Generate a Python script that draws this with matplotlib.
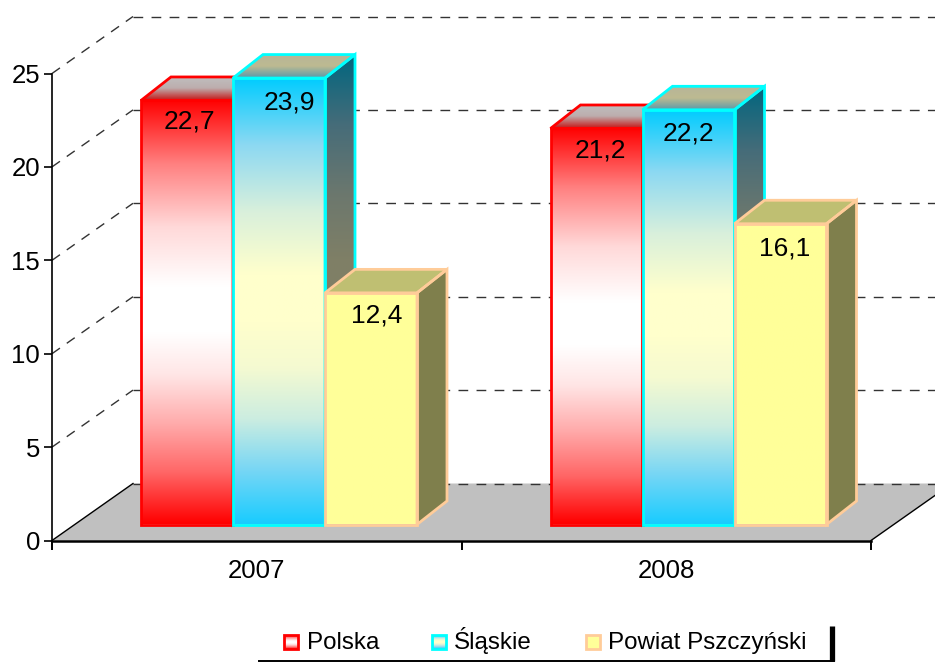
#coding=utf-8

import numpy as np
import matplotlib
matplotlib.use('Agg')
import matplotlib.pyplot as plt
from matplotlib.colors import LinearSegmentedColormap
from matplotlib.patches import Polygon

plt.rcParams['font.family'] = ['Liberation Sans', 'DejaVu Sans']

# dane
years = ['2007', '2008']
series_names = ['Polska', 'Śląskie', 'Powiat Pszczyński']
polska = [22.7, 21.2]
slaskie = [23.9, 22.2]
powiat = [12.4, 16.1]
value_labels = [['22,7', '21,2'], ['23,9', '22,2'], ['12,4', '16,1']]
y_ticks = [0, 5, 10, 15, 20, 25]

W, H = 935, 662
AX_L, AX_R, AX_B, AX_T = 52, 871, 540.5, 73.5
PX_X = (AX_R - AX_L) / 2.0
PX_Y = (AX_B - AX_T) / 25.0

# glebia wykresu 3D (piksele -> jednostki danych)
DEPTH_X = 81 / PX_X
DEPTH_Y = 57 / PX_Y
BAR_DX = 30 / PX_X
BAR_DY = 23.5 / PX_Y
BASE_X = 22.5 / PX_X
BASE_Y = 16 / PX_Y
BAR_W = 92 / PX_X
FIRST = 66.5 / PX_X

RED_STOPS = [(0, (1, 0, 0)), (0.12, (1, 0.4, 0.4)), (0.235, (1, 0.67, 0.67)), (0.35, (1, 0.9, 0.9)),
             (0.45, (1, 1, 1)), (0.56, (1, 1, 1)), (0.7, (1, 0.85, 0.85)), (0.85, (1, 0.5, 0.5)), (1, (1, 0, 0))]
CYAN_STOPS = [(0, (0.1, 0.8, 1)), (0.12, (0.47, 0.84, 0.96)), (0.235, (0.8, 0.93, 0.88)), (0.35, (0.96, 0.98, 0.82)),
              (0.45, (1, 1, 0.8)), (0.56, (1, 1, 0.8)), (0.7, (0.85, 0.94, 0.86)), (0.85, (0.55, 0.85, 0.95)),
              (1, (0, 0.8, 1))]
SIDE_STOPS = [(p, tuple(0.5 * ch for ch in c)) for p, c in CYAN_STOPS]

styles = [
    {'edge': '#FF0000', 'front': RED_STOPS,
     'side': [(0.5, 0, 0), (0.5, 0.5, 0.5), (0.5, 0, 0)],
     'top': [(0.78, 0.1, 0.1), (0.74, 0.68, 0.68), (0.75, 0.75, 0.75)]},
    {'edge': '#00FFFF', 'front': CYAN_STOPS,
     'side': SIDE_STOPS,
     'top': [(0.35, 0.6, 0.67), (0.74, 0.73, 0.57), (0.72, 0.71, 0.6)]},
    {'edge': '#FFCC99', 'front': [(1, 1, 0.6), (1, 1, 0.6)],
     'side': [(0.5, 0.5, 0.3), (0.5, 0.5, 0.3)],
     'top': [(0.75, 0.75, 0.45), (0.75, 0.75, 0.45)]},
]
# przesuniecia etykiet w pikselach (x, y od gory slupka)
label_nudge = [[(2, 21), (4, 22)], [(10, 24), (0, 24)], [(6, 23), (4, 25)]]

fig = plt.figure(figsize=(W / 100, H / 100), dpi=100)
ax = fig.add_axes([AX_L / W, (H - AX_B) / H, (AX_R - AX_L) / W, (AX_B - AX_T) / H])
ax.patch.set_visible(False)


def gradient(target, pts, colors, zorder):
    # wypelnienie gradientem pionowym przyciete do wielokata
    pts = np.array(pts)
    cmap = LinearSegmentedColormap.from_list('g', colors)
    ext = (pts[:, 0].min(), pts[:, 0].max(), pts[:, 1].min(), pts[:, 1].max())
    im = target.imshow(np.linspace(1, 0, 256)[:, None], cmap=cmap, vmin=0, vmax=1, aspect='auto',
                       extent=ext, origin='upper', interpolation='bilinear', zorder=zorder)
    im.set_clip_box(fig.bbox)
    im.set_clip_path(Polygon(pts, closed=True, transform=target.transData))


# podloga
floor = Polygon([(0, 0), (2, 0), (2 + DEPTH_X, DEPTH_Y), (DEPTH_X, DEPTH_Y)], closed=True,
                facecolor='#C0C0C0', edgecolor='none', zorder=1, clip_on=False)
ax.add_patch(floor)
ax.plot([0, DEPTH_X], [0, DEPTH_Y], color='black', lw=1, zorder=2, clip_on=False)
ax.plot([2, 2 + DEPTH_X], [0, DEPTH_Y], color='black', lw=1, zorder=2, clip_on=False)

# siatka
for v in y_ticks:
    if v > 0:
        ax.plot([0, DEPTH_X], [v, v + DEPTH_Y], color='#333333', lw=1, ls=(0, (7, 6)), zorder=2, clip_on=False)
    ax.plot([DEPTH_X, 2 + DEPTH_X], [v + DEPTH_Y, v + DEPTH_Y], color='#333333', lw=1, ls=(0, (7, 6)),
            zorder=2, clip_on=False)

# slupki
z = 3
all_values = [polska, slaskie, powiat]
for g in range(len(years)):
    for s, values in enumerate(all_values):
        st = styles[s]
        v = values[g]
        x0 = g + FIRST + BASE_X + s * BAR_W
        x1 = x0 + BAR_W
        yb = BASE_Y
        yt = yb + v
        front = [(x0, yb), (x1, yb), (x1, yt), (x0, yt)]
        side = [(x1, yb), (x1 + BAR_DX, yb + BAR_DY), (x1 + BAR_DX, yt + BAR_DY), (x1, yt)]
        top = [(x0, yt), (x1, yt), (x1 + BAR_DX, yt + BAR_DY), (x0 + BAR_DX, yt + BAR_DY)]
        gradient(ax, side, st['side'], z)
        gradient(ax, top, st['top'], z + 0.1)
        gradient(ax, front, st['front'], z + 0.2)
        for pts in (side, top, front):
            ax.add_patch(Polygon(pts, closed=True, fill=False, edgecolor=st['edge'], lw=2,
                                 joinstyle='miter', zorder=z + 0.3, clip_on=False))
        nx, ny = label_nudge[s][g]
        ax.annotate(value_labels[s][g], xy=((x0 + x1) / 2, yt), xytext=(nx * 0.72, -ny * 0.72),
                    textcoords='offset points', ha='center', va='center', fontsize=19, color='black',
                    zorder=20)
        z += 1

ax.set_xlim(0, 2)
ax.set_ylim(0, 25)

# osie
for name in ['top', 'right']:
    ax.spines[name].set_visible(False)
ax.spines['left'].set_linewidth(1.2)
ax.spines['bottom'].set_linewidth(1.8)
ax.spines['bottom'].set_zorder(30)
ax.set_yticks(y_ticks)
ax.set_yticklabels([str(v) for v in y_ticks], fontsize=18.5)
ax.tick_params(axis='y', length=6, width=1.2, pad=2.5)
ax.set_xticks([0, 1, 2])
ax.set_xticklabels([])
ax.tick_params(axis='x', which='major', length=6.5, width=1.4)
ax.set_xticks([0.5, 1.5], minor=True)
ax.set_xticklabels(years, minor=True, fontsize=18.5)
ax.tick_params(axis='x', which='minor', length=0, pad=13)

# legenda w pikselach obrazu
leg = fig.add_axes([0, 0, 1, 1])
leg.axis('off')
leg.patch.set_visible(False)
swatch_x = [284, 431.5, 586]
text_x = [307, 454, 608]
for i, name in enumerate(series_names):
    sx = swatch_x[i]
    box = [(sx, 635), (sx + 14, 635), (sx + 14, 649), (sx, 649)]
    gradient(leg, box, styles[i]['front'], 2)
    leg.add_patch(Polygon(box, closed=True, fill=False, edgecolor=styles[i]['edge'], lw=2, zorder=3))
    leg.text(text_x[i], 649, name, fontsize=17.4, ha='left', va='baseline', color='black')
leg.plot([259, 834], [660.5, 660.5], color='black', lw=1.4)
leg.plot([831.5, 831.5], [626, 661], color='black', lw=3.8, solid_capstyle='butt')
leg.set_xlim(0, W)
leg.set_ylim(H, 0)

fig.savefig('out.png', dpi=100)
